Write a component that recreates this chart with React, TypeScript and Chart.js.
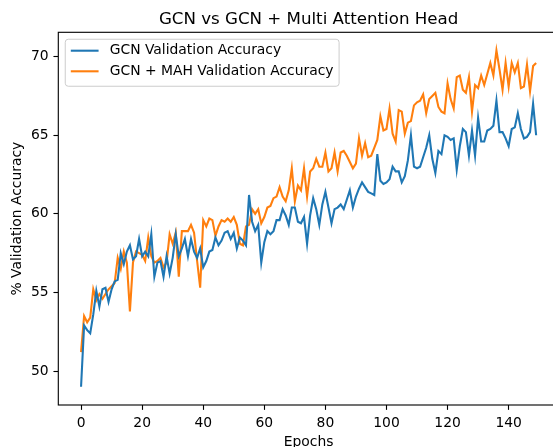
import React, { useEffect, useRef } from "react";
import { Chart, registerables } from "chart.js";

Chart.register(...registerables);

const chartTitle = "GCN vs GCN + Multi Attention Head";
const xAxisTitle = "Epochs";
const yAxisTitle = "% Validation Accuracy";
const gcnLabel = "GCN Validation Accuracy";
const mahLabel = "GCN + MAH Validation Accuracy";

const epochs: number[] = Array.from({ length: 150 }, (_, i) => i);

const gcnAccuracy: number[] = [
  49.0, 52.9, 52.6, 52.4, 53.6, 55.1, 54.1, 55.2, 55.3, 54.4,
  55.2, 55.7, 55.8, 57.5, 56.8, 57.6, 58.0, 57.1, 57.3, 58.4,
  57.3, 57.6, 57.3, 58.7, 56.0, 56.9, 57.0, 56.0, 57.3, 56.2,
  57.2, 58.7, 57.3, 57.8, 58.4, 57.3, 58.4, 57.6, 57.2, 57.8,
  56.6, 57.0, 57.6, 57.7, 58.5, 58.0, 58.3, 58.8, 58.9, 58.4,
  58.8, 57.8, 58.5, 58.3, 58.0, 61.2, 59.5, 58.9, 59.3, 56.9,
  58.2, 58.9, 58.7, 58.9, 59.6, 59.6, 60.3, 59.9, 59.3, 60.4,
  60.4, 59.5, 59.4, 59.8, 58.1, 59.9, 61.0, 60.3, 59.3, 60.6,
  61.4, 60.4, 59.4, 60.3, 60.4, 60.6, 60.3, 60.9, 61.5, 60.4,
  61.1, 61.6, 62.0, 61.7, 61.4, 61.3, 61.2, 63.8, 62.1, 61.9,
  62.0, 62.2, 63.0, 62.7, 62.7, 62.0, 62.4, 63.4, 65.0, 63.0,
  62.9, 63.0, 63.6, 64.2, 65.0, 63.5, 62.6, 64.0, 63.8, 65.0,
  64.9, 64.7, 64.8, 62.8, 64.3, 65.4, 65.2, 63.7, 65.3, 63.7,
  66.1, 64.6, 64.6, 65.3, 65.4, 65.6, 67.2, 65.2, 65.2, 64.8,
  64.3, 65.4, 65.5, 66.4, 65.4, 64.8, 64.9, 65.2, 67.0, 65.0,
];

const mahAccuracy: number[] = [
  51.2, 53.5, 53.1, 53.4, 55.2, 54.5, 54.9, 54.6, 54.9, 55.2,
  55.4, 55.6, 57.2, 56.5, 57.6, 56.9, 53.8, 56.9, 57.6, 57.5,
  57.4, 57.0, 58.5, 57.3, 56.9, 57.0, 57.2, 56.6, 56.9, 58.7,
  58.1, 58.8, 56.0, 58.9, 58.9, 58.9, 59.3, 58.8, 57.0, 55.3,
  59.6, 59.2, 59.7, 59.6, 58.6, 59.2, 59.6, 59.5, 59.7, 59.5,
  59.8, 59.3, 58.1, 58.0, 59.2, 59.3, 60.3, 60.0, 60.3, 59.4,
  59.8, 60.4, 60.5, 61.0, 61.1, 61.7, 61.1, 60.8, 61.5, 62.9,
  60.8, 61.8, 61.5, 62.9, 61.1, 62.7, 62.9, 63.5, 63.0, 63.0,
  63.9, 62.7, 62.9, 63.9, 62.7, 63.9, 64.0, 63.7, 63.3, 62.9,
  63.2, 64.8, 63.7, 64.5, 63.6, 63.7, 64.2, 64.7, 66.2, 65.3,
  65.4, 66.7, 65.1, 64.6, 66.6, 66.5, 65.1, 65.8, 65.9, 66.9,
  67.1, 67.2, 67.6, 66.4, 67.3, 67.5, 67.7, 66.8, 66.5, 66.4,
  68.3, 67.3, 66.7, 68.7, 68.8, 67.9, 67.7, 68.7, 66.5, 68.2,
  68.0, 68.8, 68.2, 68.9, 69.6, 68.8, 70.4, 69.2, 67.9, 69.6,
  68.1, 69.6, 69.0, 69.6, 68.0, 68.1, 69.5, 67.8, 69.4, 69.6,
];

const xTickValues: number[] = [0, 20, 40, 60, 80, 100, 120, 140];
const yTickValues: number[] = [50, 55, 60, 65, 70];

const W = 600;
const H = 460;
const PLOT_LEFT = 58.3;
const PLOT_TOP = 32.3;
const PLOT_RIGHT = 558.9;
const PLOT_BOTTOM = 405;
const FONT = "'DejaVu Sans', sans-serif";
const PT = 1.389;

const decorPlugin = {
  id: "decor",
  afterDraw(chart: any) {
    const { ctx, chartArea } = chart;
    const { left, top, right, bottom } = chartArea;
    ctx.save();
    // frame
    ctx.strokeStyle = "#000";
    ctx.lineWidth = 0.8 * PT;
    ctx.strokeRect(left, top, right - left, bottom - top);

    const cx = (left + right) / 2;
    // title
    ctx.fillStyle = "#000";
    ctx.font = `${12 * PT}px ${FONT}`;
    ctx.textAlign = "center";
    ctx.textBaseline = "alphabetic";
    ctx.fillText(chartTitle, cx, top - 6 * PT);

    // x label
    ctx.font = `${10 * PT}px ${FONT}`;
    ctx.textBaseline = "top";
    ctx.fillText(xAxisTitle, cx, 435.5);

    // y label
    ctx.save();
    ctx.translate(17.2, (top + bottom) / 2);
    ctx.rotate(-Math.PI / 2);
    ctx.textBaseline = "middle";
    ctx.fillText(yAxisTitle, 0, 0);
    ctx.restore();

    // legend
    const fs = 10 * PT;
    ctx.font = `${fs}px ${FONT}`;
    const ds = chart.data.datasets;
    const textW = Math.max(...ds.map((d: any) => ctx.measureText(d.label).width));
    const bx = left + 0.5 * fs;
    const by = top + 0.5 * fs;
    const handleX0 = bx + 0.4 * fs;
    const handleX1 = handleX0 + 2 * fs;
    const textX = handleX1 + 0.8 * fs;
    const bw = textX + textW + 0.4 * fs - bx;
    const rowH = 20.6;
    const bh = 47;
    const r = 3;
    ctx.beginPath();
    ctx.moveTo(bx + r, by);
    ctx.lineTo(bx + bw - r, by);
    ctx.arcTo(bx + bw, by, bx + bw, by + r, r);
    ctx.lineTo(bx + bw, by + bh - r);
    ctx.arcTo(bx + bw, by + bh, bx + bw - r, by + bh, r);
    ctx.lineTo(bx + r, by + bh);
    ctx.arcTo(bx, by + bh, bx, by + bh - r, r);
    ctx.lineTo(bx, by + r);
    ctx.arcTo(bx, by, bx + r, by, r);
    ctx.closePath();
    ctx.fillStyle = "rgba(255,255,255,0.8)";
    ctx.fill();
    ctx.strokeStyle = "#cccccc";
    ctx.lineWidth = 1;
    ctx.stroke();

    ds.forEach((d: any, i: number) => {
      const y = 50.7 + i * rowH;
      ctx.beginPath();
      ctx.moveTo(handleX0, y);
      ctx.lineTo(handleX1, y);
      ctx.strokeStyle = d.borderColor;
      ctx.lineWidth = 1.5 * PT;
      ctx.stroke();
      ctx.fillStyle = "#000";
      ctx.textAlign = "left";
      ctx.textBaseline = "middle";
      ctx.fillText(d.label, textX, y);
    });
    ctx.restore();
  },
};

export default function App() {
  const canvasRef = useRef<HTMLCanvasElement | null>(null);

  useEffect(() => {
    const canvas = canvasRef.current;
    if (!canvas) return;
    const chart = new Chart(canvas, {
      type: "line",
      data: {
        datasets: [
          {
            label: gcnLabel,
            data: epochs.map((e, i) => ({ x: e, y: gcnAccuracy[i] })),
            borderColor: "#1f77b4",
            backgroundColor: "#1f77b4",
            borderWidth: 1.5 * PT,
            pointRadius: 0,
            tension: 0,
            fill: false,
          },
          {
            label: mahLabel,
            data: epochs.map((e, i) => ({ x: e, y: mahAccuracy[i] })),
            borderColor: "#ff7f0e",
            backgroundColor: "#ff7f0e",
            borderWidth: 1.5 * PT,
            pointRadius: 0,
            tension: 0,
            fill: false,
          },
        ],
      },
      options: {
        responsive: false,
        animation: false,
        devicePixelRatio: 1,
        layout: {
          padding: { left: 0, top: PLOT_TOP, right: W - PLOT_RIGHT, bottom: 0 },
        },
        plugins: {
          legend: { display: false },
          title: { display: false },
          tooltip: { enabled: false },
        },
        scales: {
          x: {
            type: "linear",
            min: -7.45,
            max: 156.45,
            afterBuildTicks: (s: any) => {
              s.ticks = xTickValues.map((v) => ({ value: v }));
            },
            afterFit: (s: any) => {
              s.height = H - PLOT_BOTTOM;
            },
            border: { display: false },
            grid: {
              display: true,
              drawOnChartArea: false,
              drawTicks: true,
              tickLength: 3.5 * PT,
              tickColor: "#000",
              tickWidth: 0.8 * PT,
            },
            ticks: {
              autoSkip: false,
              maxRotation: 0,
              padding: 3.5 * PT,
              color: "#000",
              font: { family: FONT, size: 10 * PT },
            },
          },
          y: {
            type: "linear",
            min: 47.84,
            max: 71.55,
            afterBuildTicks: (s: any) => {
              s.ticks = yTickValues.map((v) => ({ value: v }));
            },
            afterFit: (s: any) => {
              s.width = PLOT_LEFT;
            },
            border: { display: false },
            grid: {
              display: true,
              drawOnChartArea: false,
              drawTicks: true,
              tickLength: 3.5 * PT,
              tickColor: "#000",
              tickWidth: 0.8 * PT,
            },
            ticks: {
              padding: 3.5 * PT,
              color: "#000",
              font: { family: FONT, size: 10 * PT },
            },
          },
        },
      },
      plugins: [decorPlugin],
    } as any);
    return () => chart.destroy();
  }, []);

  return (
    <div
      style={{
        position: "absolute",
        left: 0,
        top: 0,
        width: 553,
        height: 447,
        overflow: "hidden",
        background: "#fff",
      }}
    >
      <canvas ref={canvasRef} width={W} height={H} style={{ width: W, height: H, display: "block" }} />
    </div>
  );
}
